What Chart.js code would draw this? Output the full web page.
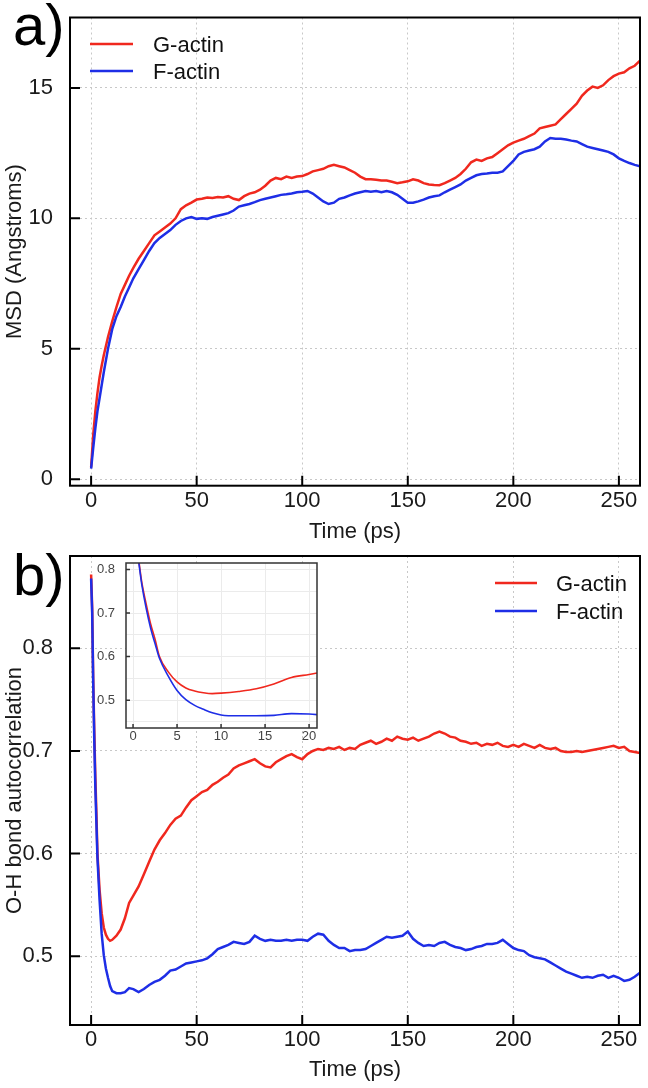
<!DOCTYPE html>
<html>
<head>
<meta charset="utf-8">
<script src="https://cdn.jsdelivr.net/npm/chart.js@4"></script>
<style>
    body { margin: 0; background: #fff; width: 648px; height: 1088px; position: relative; overflow: hidden; font-family: "Liberation Sans", Arial, sans-serif; }
    .box { position: absolute; }
    #box-a { left: 0; top: 0; width: 648px; height: 546px; }
    #box-b { left: 0; top: 546px; width: 648px; height: 542px; }
    #box-inset { left: 88px; top: 553px; width: 240px; height: 200px; }
    .panel { position: absolute; left: 13px; font-size: 58px; line-height: 58px; color: #000; }
</style>
</head>
<body>
<div class="box" id="box-a"><canvas id="chart-a"></canvas></div>
<div class="box" id="box-b"><canvas id="chart-b"></canvas></div>
<div class="box" id="box-inset"><canvas id="chart-inset"></canvas></div>
<div class="panel" style="top:-4px">a)</div>
<div class="panel" style="top:546px">b)</div>
<script>
// panel a: MSD
const timea = [
    0, 1, 2, 3, 4, 5, 6, 8, 10, 12, 14, 16, 18, 20,
    22.5, 25, 27.5, 30, 32.5, 35, 37.5, 40, 42.5, 45, 47.5, 50,
    52.5, 55, 57.5, 60, 62.5, 65, 67.5, 70, 72.5, 75, 77.5, 80,
    82.5, 85, 87.5, 90, 92.5, 95, 97.5, 100, 102.5, 105, 107.5, 110,
    112.5, 115, 117.5, 120, 122.5, 125, 127.5, 130, 132.5, 135, 137.5, 140,
    142.5, 145, 147.5, 150, 152.5, 155, 157.5, 160, 162.5, 165, 167.5, 170,
    172.5, 175, 177.5, 180, 182.5, 185, 187.5, 190, 192.5, 195, 197.5, 200,
    202.5, 205, 207.5, 210, 212.5, 215, 217.5, 220, 222.5, 225, 227.5, 230,
    232.5, 235, 237.5, 240, 242.5, 245, 247.5, 250, 252.5, 255, 257.5, 260
];
const gactina = [
    0.45, 1.7, 2.6, 3.3, 3.9, 4.35, 4.75, 5.45, 6.05, 6.6, 7.1, 7.45, 7.8, 8.1,
    8.45, 8.75, 9.05, 9.35, 9.5, 9.65, 9.8, 10.0, 10.35, 10.5, 10.6, 10.72,
    10.75, 10.8, 10.78, 10.82, 10.8, 10.85, 10.75, 10.7, 10.85, 10.95, 11.0, 11.1,
    11.25, 11.45, 11.55, 11.5, 11.6, 11.55, 11.6, 11.62, 11.7, 11.8, 11.85, 11.9,
    12.0, 12.05, 12.0, 11.95, 11.85, 11.75, 11.6, 11.5, 11.5, 11.48, 11.45, 11.45,
    11.4, 11.35, 11.38, 11.42, 11.5, 11.45, 11.35, 11.3, 11.28, 11.27, 11.35, 11.45,
    11.55, 11.7, 11.9, 12.15, 12.25, 12.2, 12.3, 12.35, 12.5, 12.65, 12.8, 12.9,
    12.98, 13.05, 13.15, 13.25, 13.45, 13.5, 13.55, 13.6, 13.8, 14.0, 14.2, 14.4,
    14.7, 14.9, 15.05, 15.0, 15.1, 15.3, 15.45, 15.55, 15.6, 15.75, 15.85, 16.05
];
const factina = [
    0.4, 1.2, 1.95, 2.6, 3.1, 3.6, 4.1, 5.0, 5.75, 6.25, 6.6, 7.0, 7.35, 7.7,
    8.05, 8.4, 8.75, 9.05, 9.25, 9.4, 9.55, 9.75, 9.9, 10.0, 10.05, 9.98,
    10.0, 9.98, 10.05, 10.1, 10.15, 10.2, 10.3, 10.45, 10.5, 10.55, 10.62, 10.7,
    10.75, 10.8, 10.85, 10.9, 10.92, 10.95, 11.0, 11.02, 11.05, 10.95, 10.8, 10.65,
    10.55, 10.6, 10.75, 10.8, 10.88, 10.95, 11.0, 11.05, 11.02, 11.05, 11.0, 11.05,
    11.0, 10.9, 10.75, 10.6, 10.6, 10.65, 10.72, 10.8, 10.85, 10.88, 11.0, 11.1,
    11.2, 11.3, 11.45, 11.55, 11.65, 11.7, 11.72, 11.75, 11.75, 11.8, 12.0, 12.2,
    12.45, 12.55, 12.6, 12.65, 12.75, 12.95, 13.08, 13.05, 13.05, 13.02, 12.98, 12.95,
    12.85, 12.75, 12.7, 12.65, 12.6, 12.55, 12.45, 12.3, 12.2, 12.12, 12.05, 12.0
];

// panel b: O-H bond autocorrelation
const timeb = [
    0, 0.5, 1, 1.5, 2, 2.5, 3, 4, 5, 6, 7, 8, 9, 10, 12, 14, 16, 18, 20,
    22.5, 25, 27.5, 30, 32.5, 35, 37.5, 40, 42.5, 45, 47.5, 50,
    52.5, 55, 57.5, 60, 62.5, 65, 67.5, 70, 72.5, 75, 77.5, 80,
    82.5, 85, 87.5, 90, 92.5, 95, 97.5, 100, 102.5, 105, 107.5, 110,
    112.5, 115, 117.5, 120, 122.5, 125, 127.5, 130, 132.5, 135, 137.5, 140,
    142.5, 145, 147.5, 150, 152.5, 155, 157.5, 160, 162.5, 165, 167.5, 170,
    172.5, 175, 177.5, 180, 182.5, 185, 187.5, 190, 192.5, 195, 197.5, 200,
    202.5, 205, 207.5, 210, 212.5, 215, 217.5, 220, 222.5, 225, 227.5, 230,
    232.5, 235, 237.5, 240, 242.5, 245, 247.5, 250, 252.5, 255, 257.5, 260
];
const gactinb = [
    0.872, 0.84, 0.77, 0.72, 0.675, 0.64, 0.6, 0.565, 0.542, 0.528, 0.521, 0.517, 0.515, 0.516, 0.52, 0.526, 0.537, 0.552, 0.559,
    0.568, 0.58, 0.592, 0.604, 0.613, 0.62, 0.628, 0.634, 0.637, 0.645, 0.652, 0.656,
    0.66, 0.662, 0.667, 0.67, 0.674, 0.677, 0.683, 0.686, 0.688, 0.69, 0.692, 0.688,
    0.685, 0.684, 0.689, 0.692, 0.695, 0.697, 0.694, 0.692, 0.697, 0.7, 0.702, 0.701,
    0.703, 0.702, 0.704, 0.701, 0.703, 0.702, 0.706, 0.708, 0.71, 0.707, 0.709, 0.712,
    0.71, 0.714, 0.712, 0.711, 0.713, 0.71, 0.712, 0.714, 0.717, 0.719, 0.717, 0.714,
    0.713, 0.71, 0.709, 0.707, 0.708, 0.705, 0.707, 0.706, 0.708, 0.705, 0.704, 0.706,
    0.704, 0.707, 0.705, 0.703, 0.706, 0.703, 0.702, 0.703, 0.7, 0.699, 0.699, 0.7,
    0.699, 0.7, 0.701, 0.702, 0.703, 0.704, 0.705, 0.703, 0.704, 0.7, 0.699, 0.698
];
const factinb = [
    0.868, 0.835, 0.765, 0.71, 0.665, 0.63, 0.596, 0.555, 0.522, 0.501, 0.488, 0.479, 0.471, 0.466, 0.464, 0.464, 0.465, 0.469, 0.468,
    0.465, 0.468, 0.472, 0.475, 0.477, 0.481, 0.486, 0.487, 0.49, 0.493, 0.494, 0.495,
    0.496, 0.498, 0.502, 0.507, 0.509, 0.511, 0.514, 0.513, 0.512, 0.514, 0.52, 0.517,
    0.515, 0.516, 0.515, 0.515, 0.516, 0.515, 0.516, 0.516, 0.515, 0.519, 0.522, 0.521,
    0.515, 0.511, 0.508, 0.508, 0.505, 0.506, 0.506, 0.507, 0.51, 0.513, 0.516, 0.519,
    0.518, 0.519, 0.52, 0.524, 0.517, 0.513, 0.51, 0.511, 0.51, 0.513, 0.514, 0.511,
    0.509, 0.508, 0.506, 0.507, 0.509, 0.51, 0.512, 0.512, 0.513, 0.516, 0.512, 0.508,
    0.506, 0.505, 0.501, 0.499, 0.498, 0.497, 0.494, 0.491, 0.488, 0.485, 0.483, 0.481,
    0.479, 0.48, 0.479, 0.481, 0.482, 0.479, 0.481, 0.479, 0.476, 0.477, 0.48, 0.484
];

// tick labels
const xticks = [0, 50, 100, 150, 200, 250];
const yticksa = [0, 5, 10, 15];
const yticksb = [0.5, 0.6, 0.7, 0.8];
const insetxticks = [0, 5, 10, 15, 20];
const insetygrid = [0.45, 0.5, 0.55, 0.6, 0.65, 0.7, 0.75, 0.8];
const insetylabels = [0.5, 0.6, 0.7, 0.8];

const red = "#f0281e";
const blue = "#1e2ee6";
const fontfamily = "'Liberation Sans', Arial, sans-serif";

Chart.defaults.font.family = fontfamily;
Chart.defaults.color = "#1a1a1a";

const topoints = (times, values) => times.map((t, i) => ({ x: t, y: values[i] }));

// fixed axis sizes, and no extra room for end labels
function fixsize(axis, size) {
    if (axis.isHorizontal()) {
        axis.height = size;
        axis.paddingLeft = 0;
        axis.paddingRight = 0;
    } else {
        axis.width = size;
        axis.paddingTop = 0;
        axis.paddingBottom = 0;
    }
}

// frame around the plot area with inward tick marks
const frameplugin = {
    id: "frame",
    beforeDraw(chart, args, opts) {
        if (!opts.fill) return;
        const a = chart.chartArea;
        chart.ctx.save();
        chart.ctx.fillStyle = opts.fill;
        chart.ctx.fillRect(a.left, a.top, a.right - a.left, a.bottom - a.top);
        chart.ctx.restore();
    },
    afterDraw(chart, args, opts) {
        const { ctx, chartArea: a, scales } = chart;
        ctx.save();
        ctx.strokeStyle = opts.color;
        ctx.lineWidth = opts.width;
        ctx.beginPath();
        scales.x.ticks.forEach((t) => {
            if (t.label === "") return;
            const px = scales.x.getPixelForValue(t.value);
            ctx.moveTo(px, a.bottom);
            ctx.lineTo(px, a.bottom - opts.ticklen);
        });
        scales.y.ticks.forEach((t) => {
            if (t.label === "") return;
            const py = scales.y.getPixelForValue(t.value);
            ctx.moveTo(a.left, py);
            ctx.lineTo(a.left + opts.ticklen, py);
        });
        ctx.stroke();
        ctx.strokeRect(a.left, a.top, a.right - a.left, a.bottom - a.top);
        ctx.restore();
    },
};

// legend drawn as short line + label
const legendplugin = {
    id: "linelegend",
    afterDraw(chart, args, opts) {
        if (!opts.show) return;
        const ctx = chart.ctx;
        ctx.save();
        ctx.font = `22px ${fontfamily}`;
        ctx.textBaseline = "middle";
        chart.data.datasets.forEach((ds, i) => {
            const y = opts.y + i * opts.gap;
            ctx.strokeStyle = ds.borderColor;
            ctx.lineWidth = 2.5;
            ctx.beginPath();
            ctx.moveTo(opts.x, y);
            ctx.lineTo(opts.x + opts.len, y);
            ctx.stroke();
            ctx.fillStyle = "#111";
            ctx.fillText(ds.label, opts.x + opts.len + opts.space, y + 2);
        });
        ctx.restore();
    },
};

function maindatasets(times, gvals, fvals, width) {
    return [
        { label: "G-actin", data: topoints(times, gvals), borderColor: red, borderWidth: width, pointRadius: 0, order: 1 },
        { label: "F-actin", data: topoints(times, fvals), borderColor: blue, borderWidth: width, pointRadius: 0, order: 0 },
    ];
}

function mainconfig(cfg) {
    return {
        type: "line",
        data: { datasets: maindatasets(cfg.times, cfg.gvals, cfg.fvals, 2.5) },
        options: {
            responsive: true,
            maintainAspectRatio: false,
            animation: false,
            layout: { padding: { top: cfg.padtop, right: 8, left: 0, bottom: 0 } },
            plugins: {
                legend: { display: false },
                tooltip: { enabled: false },
                frame: { color: "#000", width: 2, ticklen: 10 },
                linelegend: Object.assign({ show: true }, cfg.legend),
            },
            scales: {
                x: {
                    type: "linear",
                    min: -10,
                    max: 260,
                    afterBuildTicks: (axis) => { axis.ticks = xticks.map((v) => ({ value: v })); },
                    afterFit: (axis) => fixsize(axis, cfg.xheight),
                    grid: { color: "#c8c8c8", lineWidth: 1, drawTicks: false },
                    border: { display: false, dash: [2, 3] },
                    ticks: { autoSkip: false, maxRotation: 0, padding: 2, font: { size: 22 }, color: "#1a1a1a" },
                    title: { display: true, text: "Time (ps)", font: { size: 22 }, color: "#1a1a1a", padding: { top: cfg.titlepad, bottom: cfg.titlepad } },
                },
                y: {
                    type: "linear",
                    min: cfg.ymin,
                    max: cfg.ymax,
                    afterBuildTicks: (axis) => { axis.ticks = cfg.yticks.map((v) => ({ value: v })); },
                    afterFit: (axis) => fixsize(axis, 70),
                    grid: { color: "#c8c8c8", lineWidth: 1, drawTicks: false },
                    border: { display: false, dash: [2, 3] },
                    ticks: { autoSkip: false, padding: 17, font: { size: 22 }, color: "#1a1a1a", callback: cfg.ylabel },
                    title: { display: true, text: cfg.ytitle, font: { size: 22 }, color: "#1a1a1a", padding: { top: 2, bottom: 2 } },
                },
            },
        },
        plugins: [frameplugin, legendplugin],
    };
}

new Chart(document.getElementById("chart-a"), mainconfig({
    times: timea, gvals: gactina, fvals: factina,
    padtop: 17.5, xheight: 60.3, titlepad: 0.8,
    ymin: -0.25, ymax: 17.7, yticks: yticksa,
    ylabel: (v) => String(v),
    ytitle: "MSD (Angstroms)",
    legend: { x: 90, y: 44, gap: 27, len: 43, space: 20 },
}));

new Chart(document.getElementById("chart-b"), mainconfig({
    times: timeb, gvals: gactinb, fvals: factinb,
    padtop: 10, xheight: 63, titlepad: 4.8,
    ymin: 0.433, ymax: 0.89, yticks: yticksb,
    ylabel: (v) => v.toFixed(1),
    ytitle: "O-H bond autocorrelation",
    legend: { x: 495, y: 37, gap: 28, len: 42, space: 19 },
}));

// inset: zoom on the first 20 ps of panel b
const insetsets = maindatasets(timeb, gactinb, factinb, 1.6);
insetsets.forEach((ds) => { ds.cubicInterpolationMode = "monotone"; });

new Chart(document.getElementById("chart-inset"), {
    type: "line",
    data: { datasets: insetsets },
    options: {
        responsive: true,
        maintainAspectRatio: false,
        animation: false,
        layout: { padding: { top: 10, right: 11, left: 0, bottom: 0 } },
        plugins: {
            legend: { display: false },
            tooltip: { enabled: false },
            frame: { color: "#333", width: 1.5, ticklen: 4, fill: "#fff" },
            linelegend: { show: false },
        },
        scales: {
            x: {
                type: "linear",
                min: -0.8,
                max: 20.9,
                afterBuildTicks: (axis) => { axis.ticks = insetxticks.map((v) => ({ value: v })); },
                afterFit: (axis) => fixsize(axis, 25),
                grid: { color: "#ebebeb", lineWidth: 1, drawTicks: false },
                border: { display: false },
                ticks: { autoSkip: false, maxRotation: 0, padding: 1, font: { size: 13 }, color: "#444" },
            },
            y: {
                type: "linear",
                min: 0.436,
                max: 0.815,
                afterBuildTicks: (axis) => { axis.ticks = insetygrid.map((v) => ({ value: v })); },
                afterFit: (axis) => fixsize(axis, 38),
                grid: { color: "#ebebeb", lineWidth: 1, drawTicks: false },
                border: { display: false },
                ticks: {
                    autoSkip: false, padding: 11, font: { size: 13 }, color: "#444",
                    callback: (v) => (insetylabels.includes(v) ? v.toFixed(1) : ""),
                },
            },
        },
    },
    plugins: [frameplugin],
});
</script>
</body>
</html>
